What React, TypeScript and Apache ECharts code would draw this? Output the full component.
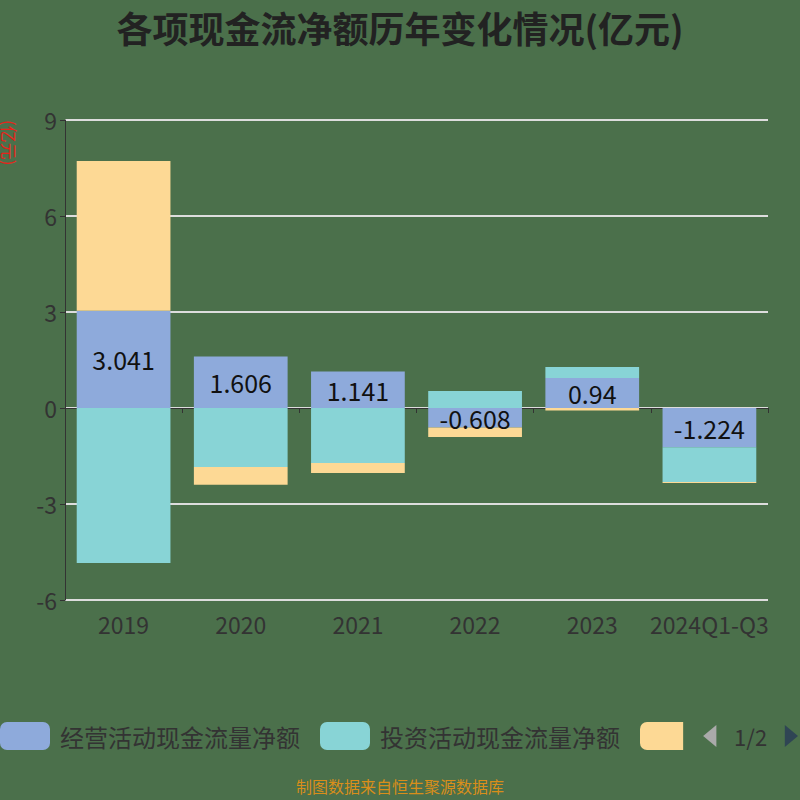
import React, { useEffect, useRef } from "react";
import * as echarts from "echarts";

const categories = ["2019", "2020", "2021", "2022", "2023", "2024Q1-Q3"];
const operating = [3.041, 1.606, 1.141, -0.608, 0.94, -1.224];
const investing = [-4.84, -1.84, -1.72, 0.53, 0.34, -1.09];
const financing = [4.68, -0.56, -0.31, -0.3, -0.08, -0.03];
const seriesNames = ["经营活动现金流量净额", "投资活动现金流量净额", "筹资活动现金流量净额"];
const yTicks = { min: -6, max: 9, interval: 3 };

export default function App() {
  const ref = useRef<HTMLDivElement>(null);
  useEffect(() => {
    document.body.style.margin = "0";
    const chart = echarts.init(ref.current!, null, { renderer: "svg" });
    const font = "Noto Sans CJK SC";
    chart.setOption({
      animation: false,
      backgroundColor: "#4b704b",
      title: {
        text: "各项现金流净额历年变化情况(亿元)",
        left: "center",
        top: 4,
        textStyle: { fontSize: 36, fontWeight: "bold", color: "#222", fontFamily: font },
      },
      graphic: [
        {
          type: "text",
          x: 18,
          y: 120,
          rotation: -Math.PI / 2,
          style: { text: "(亿元)", fill: "#e8231a", fontSize: 17, fontFamily: font },
        },
        {
          type: "text",
          left: "center",
          top: 778,
          style: { text: "制图数据来自恒生聚源数据库", fill: "#d98e1a", fontSize: 16, fontFamily: font },
        },
      ],
      legend: {
        type: "scroll",
        top: 717,
        left: 0,
        right: 0,
        padding: [5, 2, 5, 0],
        itemWidth: 50,
        itemHeight: 28,
        itemGap: 20,
        icon: "roundRect",
        textStyle: { fontSize: 24, color: "#333", fontFamily: font, padding: [0, 0, 0, 5] },
        pageTextStyle: { fontSize: 22, color: "#333", fontFamily: font },
        pageIconColor: "#2f4554",
        pageIconInactiveColor: "#aaa",
        pageIconSize: 22,
        pageButtonItemGap: 8,
        data: seriesNames,
      },
      grid: { left: 65, right: 32, top: 120, bottom: 200 },
      xAxis: {
        type: "category",
        data: categories,
        axisLine: { lineStyle: { color: "#333" } },
        axisTick: { show: true, lineStyle: { color: "#333" } },
        axisLabel: { fontSize: 23, color: "#333", fontFamily: font, margin: 12, interval: 0 },
      },
      yAxis: {
        type: "value",
        min: yTicks.min,
        max: yTicks.max,
        interval: yTicks.interval,
        axisLine: { show: true, lineStyle: { color: "#333" } },
        axisTick: { show: true, lineStyle: { color: "#333" } },
        axisLabel: { fontSize: 23, color: "#333", fontFamily: font },
        splitLine: { lineStyle: { color: "#ddd", width: 2 } },
      },
      series: [
        {
          name: seriesNames[0],
          type: "bar",
          stack: "total",
          barWidth: "80%",
          data: operating,
          itemStyle: { color: "#8eaadb" },
          label: { show: true, position: "inside", fontSize: 25, color: "#111", fontFamily: font },
        },
        {
          name: seriesNames[1],
          type: "bar",
          stack: "total",
          data: investing,
          itemStyle: { color: "#88d4d6" },
        },
        {
          name: seriesNames[2],
          type: "bar",
          stack: "total",
          data: financing,
          itemStyle: { color: "#fdd995" },
        },
      ],
    });
    return () => chart.dispose();
  }, []);
  return <div ref={ref} style={{ width: 800, height: 800 }} />;
}
